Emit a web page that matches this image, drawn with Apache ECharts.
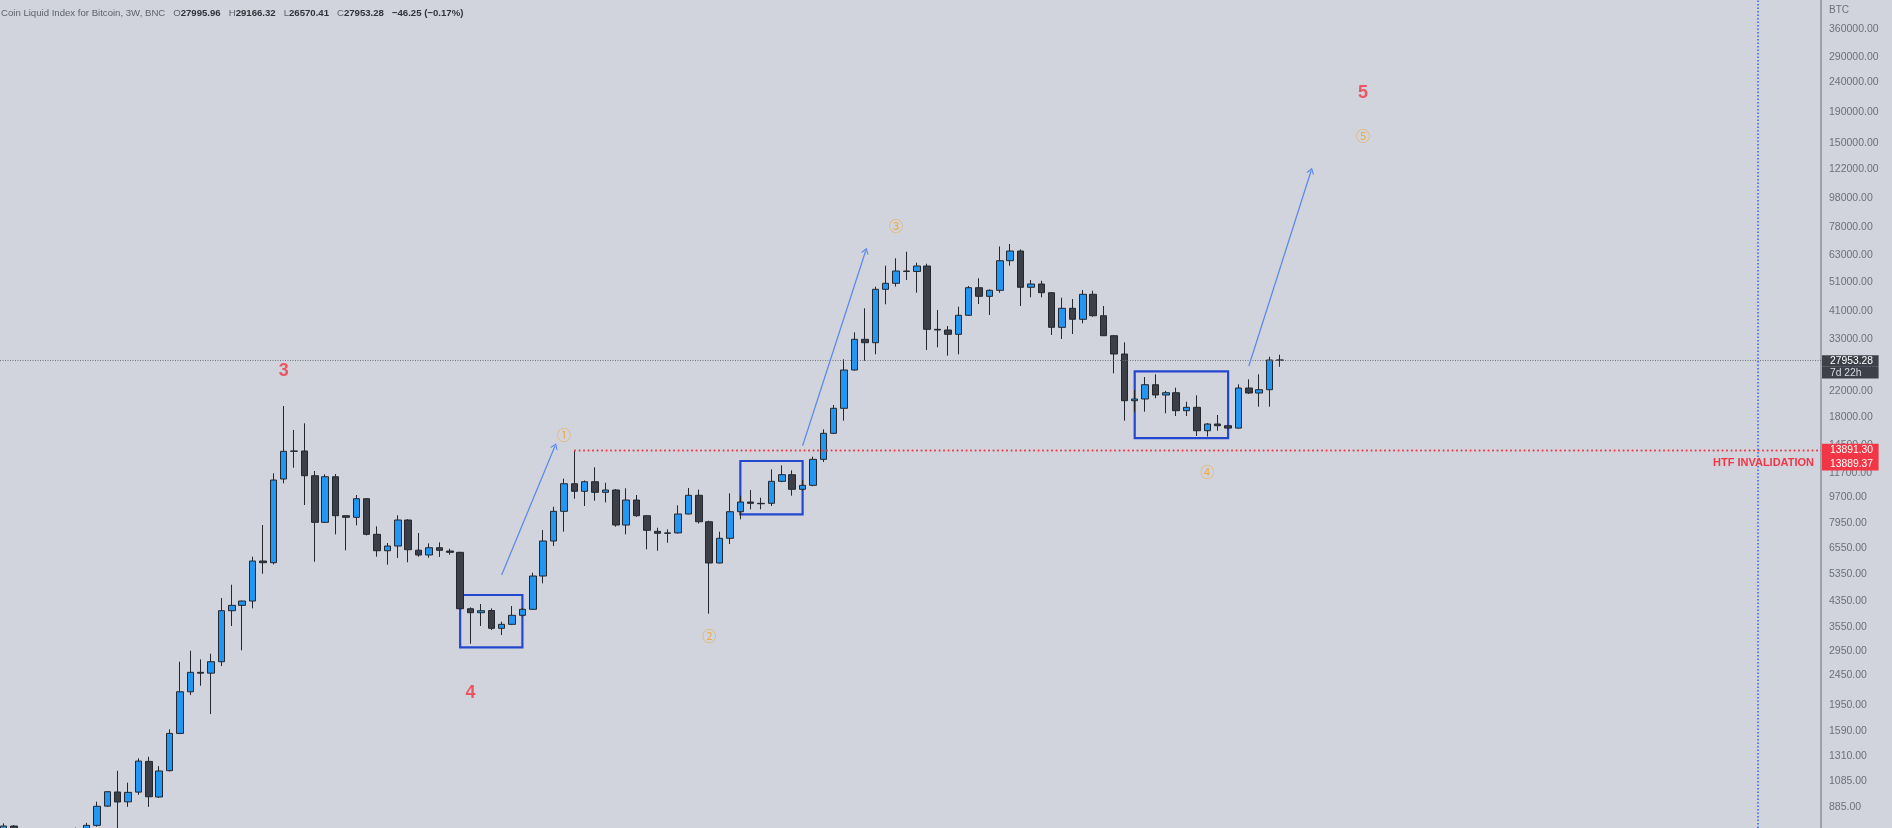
<!DOCTYPE html>
<html>
<head>
<meta charset="utf-8">
<script src="https://cdn.jsdelivr.net/npm/echarts@6/dist/echarts.min.js"></script>
<style>
html,body{margin:0;padding:0;background:#d1d4dc;}
#c{width:1892px;height:828px;}
</style>
</head>
<body>
<div id="c"></div>
<script>
// ---- 3W candles (index 0 = oldest visible slot) ----
const opens = [700,764,660,620,650,680,700,720,745,768,891,994,921,993,1259,956,1172,1563,2156,2506,2490,2720,4034,4205,4347,5923,5846,11161,13825,13860,11449,7986,11360,8405,8302,9585,7280,6413,6650,8130,6440,6204,6563,6398,6334,4096,3972,4040,3521,3631,3893,4078,5274,6912,8696,10762,10150,10930,10071,10252,7822,9489,8405,7450,7336,7360,8517,9841,8023,5832,7059,8669,9343,9250,9250,10964,11538,10308,10631,12995,15888,19275,25913,32855,32002,48350,50642,55692,55500,57883,35490,35300,34142,39551,48954,45798,47977,60305,65000,49099,50371,47095,36041,41751,38344,46516,39422,33777,29326,20441,20712,23130,21361,21744,18920,19423,16211,17073,16850,16540,22549,21694,22255,27995.96];
const highs = [780,770,700,680,700,720,740,755,783,922,1001,1171,1068,1289,1305,1214,1613,2720,2961,2770,2893,4449,4931,4360,6122,7822,11663,19621,16299,17165,11873,11574,11600,8451,9863,9630,7743,6806,8432,8180,7353,6790,6842,6513,6360,4140,4248,4108,3706,4182,4120,5410,7526,9010,11187,13891.3,11040,12218,10846,10330,10388,9863,8430,7660,7567,9108,10412,10282,8086,7427,9993,9815,10252,9660,12030,12407,11935,11075,13260,16387,19773,28148,34684,41751,49327,58015,61434,64645,59378,58920,41202,36408,42264,49598,52643,48350,67328,68617,65800,51952,51670,47300,45309,44856,48089,47830,42494,33900,32090,22203,24548,25066,22060,22603,20283,21312,17200,18302,16950,23202,24117,25066,28719,29166.32];
const lows = [680,640,600,590,630,650,680,700,730,760,885,740,886,973,886,950,1165,1555,2102,2259,1815,2631,3584,2970,4108,5368,5770,10796,12180,9129,5891,7950,7280,6433,7804,7220,6122,5756,6061,5864,6122,6075,6110,6218,4080,3125,3584,3474,3342,3610,3850,4060,4985,6650,7427,9585,9059,9438,9321,7720,7280,8340,6483,6413,6822,7320,8500,7917,3942,5820,6754,8174,8832,8832,9059,10896,9815,10200,10550,12730,15800,17513,25800,27844,29259,43057,49400,51952,47095,30247,30882,28941,29259,39400,43156,39641,47095,58015,42494,45449,45449,33962,32931,34226,37176,39117,33700,25259,17513,18687,18775,20826,18545,18161,18161,15561,15500,16211,16400,16480,21530,19514,19514,26570.41];
const closes = [764,660,620,650,680,700,720,745,768,890,996,920,991,1262,958,1169,1563,2156,2506,2490,2720,4034,4205,4347,5923,5846,11075,13825,13860,11449,7986,11360,8405,8302,9585,7280,6413,6650,8130,6463,6204,6563,6433,6334,4096,3972,4034,3521,3631,3893,4078,5274,6912,8696,10762,10150,10930,10071,10252,7822,9489,8405,7509,7336,7360,8517,9841,8023,5832,7059,8669,9343,9250,9220,10964,11538,10308,10631,12995,15888,19275,25913,32855,32002,48350,50642,55692,55500,57883,35490,35300,34142,39551,48954,45798,47977,60305,65000,49099,50371,47095,36041,41751,38344,46516,39422,33777,29326,20441,20712,23130,21361,21744,18920,19423,16211,17073,16850,16540,22549,21694,22255,27999.53,27953.28];

// ---- price axis tick labels ----
const yTicks = [360000,290000,240000,190000,150000,122000,98000,78000,63000,51000,41000,33000,27000,22000,18000,14500,11700,9700,7950,6550,5350,4350,3550,2950,2450,1950,1590,1310,1085,885];

// ---- annotations (x = candle slot, y = price) ----
const invalidationLevels = [13891.30, 13889.37];
const invalidationStart = 55;
const futureLineSlot = 169;
const timeLeft = '7d 22h';
const boxes = [[44, 50, 4554, 3039], [71, 77, 12827, 8497], [109, 118, 25654, 15320]];
const arrows = [[48, 5315, 53.14, 14404], [77, 14437, 83.08, 65150], [120, 26726, 126, 120900]];
const waveLabels = [[27, 25773, '3'], [45, 2135, '4'], [131, 220400, '5']];
const subWaveLabels = [[54, 15766, '①'], [68, 3324, '②'], [86, 78850, '③'], [116, 11809, '④'], [131, 158070, '⑤']];

// ---- axis ranges ----
const xMin = -0.33725, xMax = 175.13;
const yMin = 752.5, yMax = 452170;

const FONT = '"Liberation Sans", Arial, sans-serif';
const chart = echarts.init(document.getElementById('c'), null, {renderer: 'canvas'});
const candleData = opens.map((o, i) => [i, o, closes[i], lows[i], highs[i]]);
const last = opens.length - 1;
const fmt = v => v.toFixed(2);
const change = closes[last] - closes[last - 1];
const pct = change / closes[last - 1] * 100;
const sgn = v => (v < 0 ? '\u2212' : '+') + Math.abs(v).toFixed(2);
const lastPrice = closes[last];

const header = '{n|Coin Liquid Index for Bitcoin, 3W, BNC}   {k|O}{v|' + fmt(opens[last]) + '}   {k|H}{v|' + fmt(highs[last]) +
  '}   {k|L}{v|' + fmt(lows[last]) + '}   {k|C}{v|' + fmt(closes[last]) + '}   {v|' + sgn(change) + ' (' + sgn(pct) + '%)}';

const chevron = 'path://M0,10 L5,0 L10,10 L8.4,10 L5,3.2 L1.6,10 Z';
const TS = 9.6;

const option = {
  animation: false,
  backgroundColor: '#d1d4dc',
  textStyle: {fontFamily: FONT},
  title: [
    {left: 1, top: 8.5, padding: 0, text: header, textStyle: {fontSize: TS, fontWeight: 'normal', fontFamily: FONT, rich: {
      n: {color: '#5f626c', fontSize: TS, fontWeight: 'normal', fontFamily: FONT},
      k: {color: '#5f626c', fontSize: TS, fontWeight: 'normal', fontFamily: FONT},
      v: {color: '#30333b', fontSize: TS, fontWeight: 'bold', fontFamily: FONT}
    }}},
    {left: 1829, top: 5.5, padding: 0, text: 'BTC', textStyle: {fontSize: 10, color: '#6d707a', fontWeight: 'normal', fontFamily: FONT}}
  ],
  grid: {left: 0, right: 71, top: 0, bottom: 0, containLabel: false, outerBoundsMode: 'none'},
  xAxis: {type: 'value', min: xMin, max: xMax, show: false},
  yAxis: {
    type: 'log', logBase: 10, min: yMin, max: yMax, position: 'right',
    splitLine: {show: false}, axisTick: {show: false},
    axisLine: {show: true, onZero: false, lineStyle: {color: '#8e919a', width: 1.5}},
    axisLabel: {customValues: yTicks, formatter: v => Number(v).toFixed(2), color: '#6d707a', fontSize: 10.5, margin: 8, fontFamily: FONT}
  },
  series: [
    {
      type: 'candlestick',
      data: candleData,
      encode: {x: 0, y: [1, 2, 3, 4]},
      barWidth: 7,
      clip: true,
      itemStyle: {color: '#2196f3', color0: '#3c3f48', borderColor: '#24272e', borderColor0: '#24272e', borderColorDoji: '#24272e', borderWidth: 1},
      markArea: {
        silent: true,
        itemStyle: {color: 'rgba(0,0,0,0)', borderColor: '#2447d0', borderWidth: 2.2},
        data: boxes.map(b => [{coord: [b[0], b[2]]}, {coord: [b[1], b[3]]}])
      }
    },
    {
      type: 'line', data: [], silent: true,
      markLine: {
        silent: true, symbol: ['none', 'none'],
        data: [
          {yAxis: lastPrice,
           lineStyle: {type: [1, 1.5], color: '#6f727c', width: 1},
           label: {show: true, position: 'end', distance: 1,
             formatter: '{s| }\n{a|' + fmt(lastPrice) + '}\n{b|' + timeLeft + '}',
             rich: {
               s: {height: 13.3, lineHeight: 13.3, fontSize: 8},
               a: {backgroundColor: '#3d4049', color: '#ffffff', fontSize: 10.3, height: 11.7, lineHeight: 11.7, width: 48.6, padding: [0, 0, 0, 8], fontFamily: FONT},
               b: {backgroundColor: '#3d4049', color: '#d8dbe3', fontSize: 10.3, height: 11.7, lineHeight: 11.7, width: 48.6, padding: [0, 0, 0, 8], fontFamily: FONT}
             }}
          },
          [
            {coord: [invalidationStart, invalidationLevels[0]]},
            {coord: [xMax, invalidationLevels[0]],
             lineStyle: {type: [1.5, 3], color: '#f23645', width: 1.3},
             label: {show: true, position: 'end', distance: 1,
               formatter: '{s| }\n{a|' + fmt(invalidationLevels[0]) + '}\n{a|' + fmt(invalidationLevels[1]) + '}',
               rich: {
                 s: {height: 12.7, lineHeight: 12.7, fontSize: 8},
                 a: {backgroundColor: '#f23645', color: '#ffffff', fontSize: 10.3, height: 13.35, lineHeight: 13.35, width: 48.6, padding: [0, 0, 0, 8], fontFamily: FONT}
               }}
            }
          ],
          [
            {coord: [invalidationStart, invalidationLevels[0]]},
            {coord: [xMax, invalidationLevels[0]],
             lineStyle: {type: [1.5, 3], color: '#f23645', width: 1.3},
             label: {show: true, position: 'insideEndBottom', distance: [7, 6.5], formatter: 'HTF INVALIDATION',
               color: '#f23645', fontSize: 11, fontWeight: 'bold', fontFamily: FONT}
            }
          ],
          {xAxis: futureLineSlot, lineStyle: {type: [1.5, 2], color: '#2962ff', width: 1.5}, label: {show: false}}
        ]
      }
    },
    {
      type: 'line', data: [], silent: true,
      markLine: {
        silent: true,
        symbol: ['none', chevron], symbolSize: [8, 6],
        lineStyle: {type: 'solid', color: '#5a86f0', width: 1.2},
        label: {show: false},
        data: arrows.map(a => [{coord: [a[0], a[1]]}, {coord: [a[2], a[3]]}])
      }
    },
    {
      type: 'scatter', silent: true, symbolSize: 1,
      itemStyle: {color: 'rgba(0,0,0,0)'},
      data: waveLabels.map(w => [w[0], w[1], w[2]]),
      label: {show: true, position: 'inside', formatter: p => p.value[2], color: '#f23645', fontSize: 18, fontWeight: 'bold', fontFamily: FONT}
    },
    {
      type: 'scatter', silent: true, symbolSize: 1,
      itemStyle: {color: 'rgba(0,0,0,0)'},
      data: subWaveLabels.map(w => [w[0], w[1], w[2]]),
      label: {show: true, position: 'inside', formatter: p => p.value[2], color: '#f5a020', fontSize: 14, fontFamily: '"Noto Sans CJK SC", "DejaVu Sans", sans-serif'}
    }
  ]
};
chart.setOption(option);
</script>
</body>
</html>
